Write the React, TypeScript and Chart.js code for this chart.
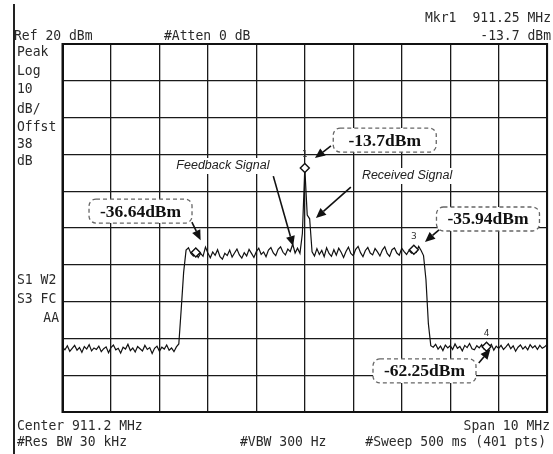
import { useEffect, useRef } from 'react';
import { Chart, registerables } from 'chart.js';
Chart.register(...registerables);

const SPAN_MHZ = 10;
const REF_DBM = 20;
const DB_PER_DIV = 10;
const DIVS = 10;

// trace, 201 points across the 10 MHz span (dBm)
const floorLeft = [
  -62.4, -63.1, -62.0, -63.5, -62.7, -61.9, -63.2, -62.5, -63.8, -62.2,
  -62.9, -61.7, -63.4, -62.6, -63.0, -62.1, -63.6, -62.8, -62.3, -63.9,
  -62.5, -61.8, -63.1, -62.7, -64.0, -62.4, -62.9, -61.6, -63.3, -62.6,
  -63.7, -62.2, -62.8, -63.4, -61.9, -63.0, -62.5, -64.1, -62.7, -62.1,
  -63.5, -62.4, -62.9, -61.8, -63.2, -62.6, -63.6, -62.3,
];
const edgeRise = [-61.5, -52.0, -42.0];
const plateau = [
  -36.0, -35.4, -36.9, -37.6, -36.64, -38.0, -36.9, -37.7, -35.2, -36.8,
  -38.1, -36.5, -37.4, -35.9, -37.8, -38.5, -36.9, -37.5, -36.0, -37.9,
  -36.8, -35.7, -37.3, -38.2, -36.7, -37.6, -35.8, -36.9, -38.0, -36.4,
  -35.5, -37.2, -36.5, -37.8, -36.0, -35.3, -36.8, -37.5, -35.8, -35.1,
  -36.6, -37.3, -35.7, -36.4, -34.4, -36.8, -35.5, -36.9, -31.5, -13.7,
  -26.5, -27.5, -36.5, -37.6, -35.6, -37.2, -36.1, -37.8, -35.4, -36.9,
  -37.7, -35.9, -37.4, -35.5, -36.6, -38.0, -36.4, -35.2, -36.9, -37.5,
  -35.8, -35.0, -36.7, -37.8, -36.1, -35.3, -36.8, -37.3, -35.6, -36.5,
  -37.6, -36.0, -35.1, -36.9, -37.7, -35.9, -35.4, -36.8, -37.4, -35.5,
  -36.4, -37.2, -36.1, -36.8, -35.94, -36.6, -35.0, -36.1, -37.5,
];
const edgeFall = [-44.0, -56.0, -62.0];
const floorRight = [
  -62.4, -61.6, -62.9, -62.1, -63.3, -61.8, -62.6, -62.0, -63.0, -61.5,
  -62.7, -62.2, -63.4, -61.9, -62.5, -61.4, -62.8, -63.1, -62.0, -62.6,
  -61.7, -62.9, -62.25, -62.4, -61.6, -63.2, -62.1, -62.7, -61.9, -63.0,
  -62.3, -61.5, -62.8, -62.0, -63.5, -62.4, -61.8, -62.9, -62.2, -63.1,
  -61.7, -62.6, -62.0, -63.0, -61.9, -62.7, -62.3, -61.6,
];
const traceDbm = [...floorLeft, ...edgeRise, ...plateau, ...edgeFall, ...floorRight];

// markers (trace point index) and their numbers
const markerIndex = [100, 55, 145, 175];
const markerNumbers = ['1', '', '3', '4'];

// callouts (data coords: MHz offset from center, dBm)
const calloutLabels = ['-13.7dBm', '-36.64dBm', '-35.94dBm', '-62.25dBm'];
const calloutAt = [[1.65, -6.1], [-3.39, -25.4], [3.78, -27.55], [2.47, -68.85]];
const calloutArrowFrom = [[0.54, -7.7], [-2.33, -28.4], [2.77, -30.5], [3.59, -66.7]];
const calloutArrowTo = [[0.21, -11.0], [-2.15, -33.3], [2.48, -33.8], [3.83, -62.9]];

const noteLabels = ['Feedback Signal', 'Received Signal'];
const noteAt = [[-1.69, -13.15], [2.11, -15.87]];
const noteArrowFrom = [[-0.65, -15.9], [0.95, -18.9]];
const noteArrowTo = [[-0.24, -34.9], [0.23, -27.3]];

const MONO = '14.5px "DejaVu Sans Mono"';
const headerTexts: [string, number, number, CanvasTextAlign][] = [
  ['Mkr1', 425, 18, 'left'],
  ['911.25 MHz', 551, 18, 'right'],
  ['Ref 20 dBm', 14, 36, 'left'],
  ['#Atten 0 dB', 164, 36, 'left'],
  ['-13.7 dBm', 551, 36, 'right'],
  ['Peak', 17, 52, 'left'],
  ['Log', 17, 71, 'left'],
  ['10', 17, 89, 'left'],
  ['dB/', 17, 109, 'left'],
  ['Offst', 17, 127, 'left'],
  ['38', 17, 144, 'left'],
  ['dB', 17, 161, 'left'],
  ['S1 W2', 17, 280, 'left'],
  ['S3 FC', 17, 299, 'left'],
  ['AA', 59, 318, 'right'],
  ['Center 911.2 MHz', 17, 426, 'left'],
  ['Span 10 MHz', 550, 426, 'right'],
  ['#Res BW 30 kHz', 17, 442, 'left'],
  ['#VBW 300 Hz', 240, 442, 'left'],
  ['#Sweep 500 ms (401 pts)', 546, 442, 'right'],
];

function arrow(ctx: CanvasRenderingContext2D, x1: number, y1: number, x2: number, y2: number) {
  const a = Math.atan2(y2 - y1, x2 - x1);
  const L = 10, W = 4.5;
  const bx = x2 - L * Math.cos(a), by = y2 - L * Math.sin(a);
  ctx.strokeStyle = '#111';
  ctx.fillStyle = '#111';
  ctx.lineWidth = 1.6;
  ctx.setLineDash([]);
  ctx.beginPath();
  ctx.moveTo(x1, y1);
  ctx.lineTo(bx, by);
  ctx.stroke();
  ctx.beginPath();
  ctx.moveTo(x2, y2);
  ctx.lineTo(bx + W * Math.sin(a), by - W * Math.cos(a));
  ctx.lineTo(bx - W * Math.sin(a), by + W * Math.cos(a));
  ctx.closePath();
  ctx.fill();
}

const overlayPlugin = {
  id: 'overlay',
  afterDatasetsDraw(chart: any) {
    const { ctx, scales } = chart;
    const X = (v: number) => scales.x.getPixelForValue(v);
    const Y = (v: number) => scales.y.getPixelForValue(v);
    ctx.save();
    // marker numbers
    const meta = chart.getDatasetMeta(0);
    ctx.font = '9px "DejaVu Sans"';
    ctx.fillStyle = '#333';
    ctx.textAlign = 'center';
    ctx.textBaseline = 'middle';
    meta.data.forEach((pt: any, i: number) => {
      if (markerNumbers[i]) ctx.fillText(markerNumbers[i], pt.x, pt.y - 13);
    });
    // signal notes
    ctx.font = 'italic 12.5px "Liberation Sans"';
    noteLabels.forEach((t, i) => {
      const cx = X(noteAt[i][0]), cy = Y(noteAt[i][1]);
      const w = ctx.measureText(t).width;
      ctx.fillStyle = '#fff';
      ctx.fillRect(cx - w / 2 - 2, cy - 8, w + 4, 16);
      ctx.fillStyle = '#222';
      ctx.fillText(t, cx, cy);
      arrow(ctx, X(noteArrowFrom[i][0]), Y(noteArrowFrom[i][1]), X(noteArrowTo[i][0]), Y(noteArrowTo[i][1]));
    });
    // callouts
    calloutLabels.forEach((t, i) => {
      const cx = X(calloutAt[i][0]), cy = Y(calloutAt[i][1]);
      const bw = 103, bh = 24;
      ctx.beginPath();
      ctx.roundRect(cx - bw / 2, cy - bh / 2, bw, bh, 7);
      ctx.fillStyle = '#fff';
      ctx.fill();
      ctx.setLineDash([4, 3]);
      ctx.strokeStyle = '#666';
      ctx.lineWidth = 1.3;
      ctx.stroke();
      ctx.setLineDash([]);
      ctx.font = 'bold 17.5px "Liberation Serif"';
      ctx.fillStyle = '#111';
      ctx.textAlign = 'center';
      ctx.textBaseline = 'middle';
      ctx.fillText(t, cx, cy + 1);
      arrow(ctx, X(calloutArrowFrom[i][0]), Y(calloutArrowFrom[i][1]), X(calloutArrowTo[i][0]), Y(calloutArrowTo[i][1]));
    });
    ctx.restore();
  },
  afterDraw(chart: any) {
    const { ctx, chartArea } = chart;
    ctx.save();
    ctx.strokeStyle = '#111';
    ctx.lineWidth = 2;
    ctx.strokeRect(chartArea.left, chartArea.top, chartArea.right - chartArea.left, chartArea.bottom - chartArea.top);
    ctx.fillStyle = '#222';
    ctx.fillRect(13, 4, 2, 450);
    ctx.font = MONO;
    ctx.fillStyle = '#2a2a2a';
    ctx.textBaseline = 'middle';
    headerTexts.forEach(([t, x, y, al]) => {
      ctx.save();
      ctx.translate(x, y);
      ctx.scale(0.9, 1);
      ctx.textAlign = al;
      ctx.fillText(t, 0, 0);
      ctx.restore();
    });
    ctx.restore();
  },
};

export default function App() {
  const ref = useRef<HTMLCanvasElement>(null);
  useEffect(() => {
    document.body.style.margin = '0';
    const canvas = ref.current!;
    const n = traceDbm.length;
    const xs = traceDbm.map((_, i) => -SPAN_MHZ / 2 + (i * SPAN_MHZ) / (n - 1));
    const grid = { color: '#1a1a1a', lineWidth: 1.3, drawTicks: false };
    const chart = new Chart(canvas, {
      type: 'line',
      data: {
        datasets: [
          {
            data: markerIndex.map((i) => ({ x: xs[i], y: traceDbm[i] })),
            showLine: false,
            pointStyle: 'rectRot',
            pointRadius: 4.5,
            pointBackgroundColor: '#fff',
            pointBorderColor: '#111',
            pointBorderWidth: 1.4,
            order: 0,
          },
          {
            data: xs.map((x, i) => ({ x, y: traceDbm[i] })),
            borderColor: '#111',
            borderWidth: 1.2,
            pointRadius: 0,
            tension: 0,
            order: 1,
          },
        ],
      },
      options: {
        responsive: false,
        animation: false,
        layout: { padding: { left: 62.5, right: 2, top: 44, bottom: 42 } },
        plugins: { legend: { display: false }, tooltip: { enabled: false } },
        scales: {
          x: {
            type: 'linear',
            min: -SPAN_MHZ / 2,
            max: SPAN_MHZ / 2,
            ticks: { display: false, stepSize: SPAN_MHZ / DIVS },
            grid,
            border: { display: true, color: '#111', width: 2 },
            afterFit: (s: any) => { s.height = 0; },
          },
          y: {
            type: 'linear',
            min: REF_DBM - DB_PER_DIV * DIVS,
            max: REF_DBM,
            ticks: { display: false, stepSize: DB_PER_DIV },
            grid,
            border: { display: true, color: '#111', width: 2 },
            afterFit: (s: any) => { s.width = 0; },
          },
        },
      } as any,
      plugins: [overlayPlugin],
    });
    return () => chart.destroy();
  }, []);
  return <canvas ref={ref} width={553} height={454} style={{ display: 'block', width: 553, height: 454 }} />;
}
